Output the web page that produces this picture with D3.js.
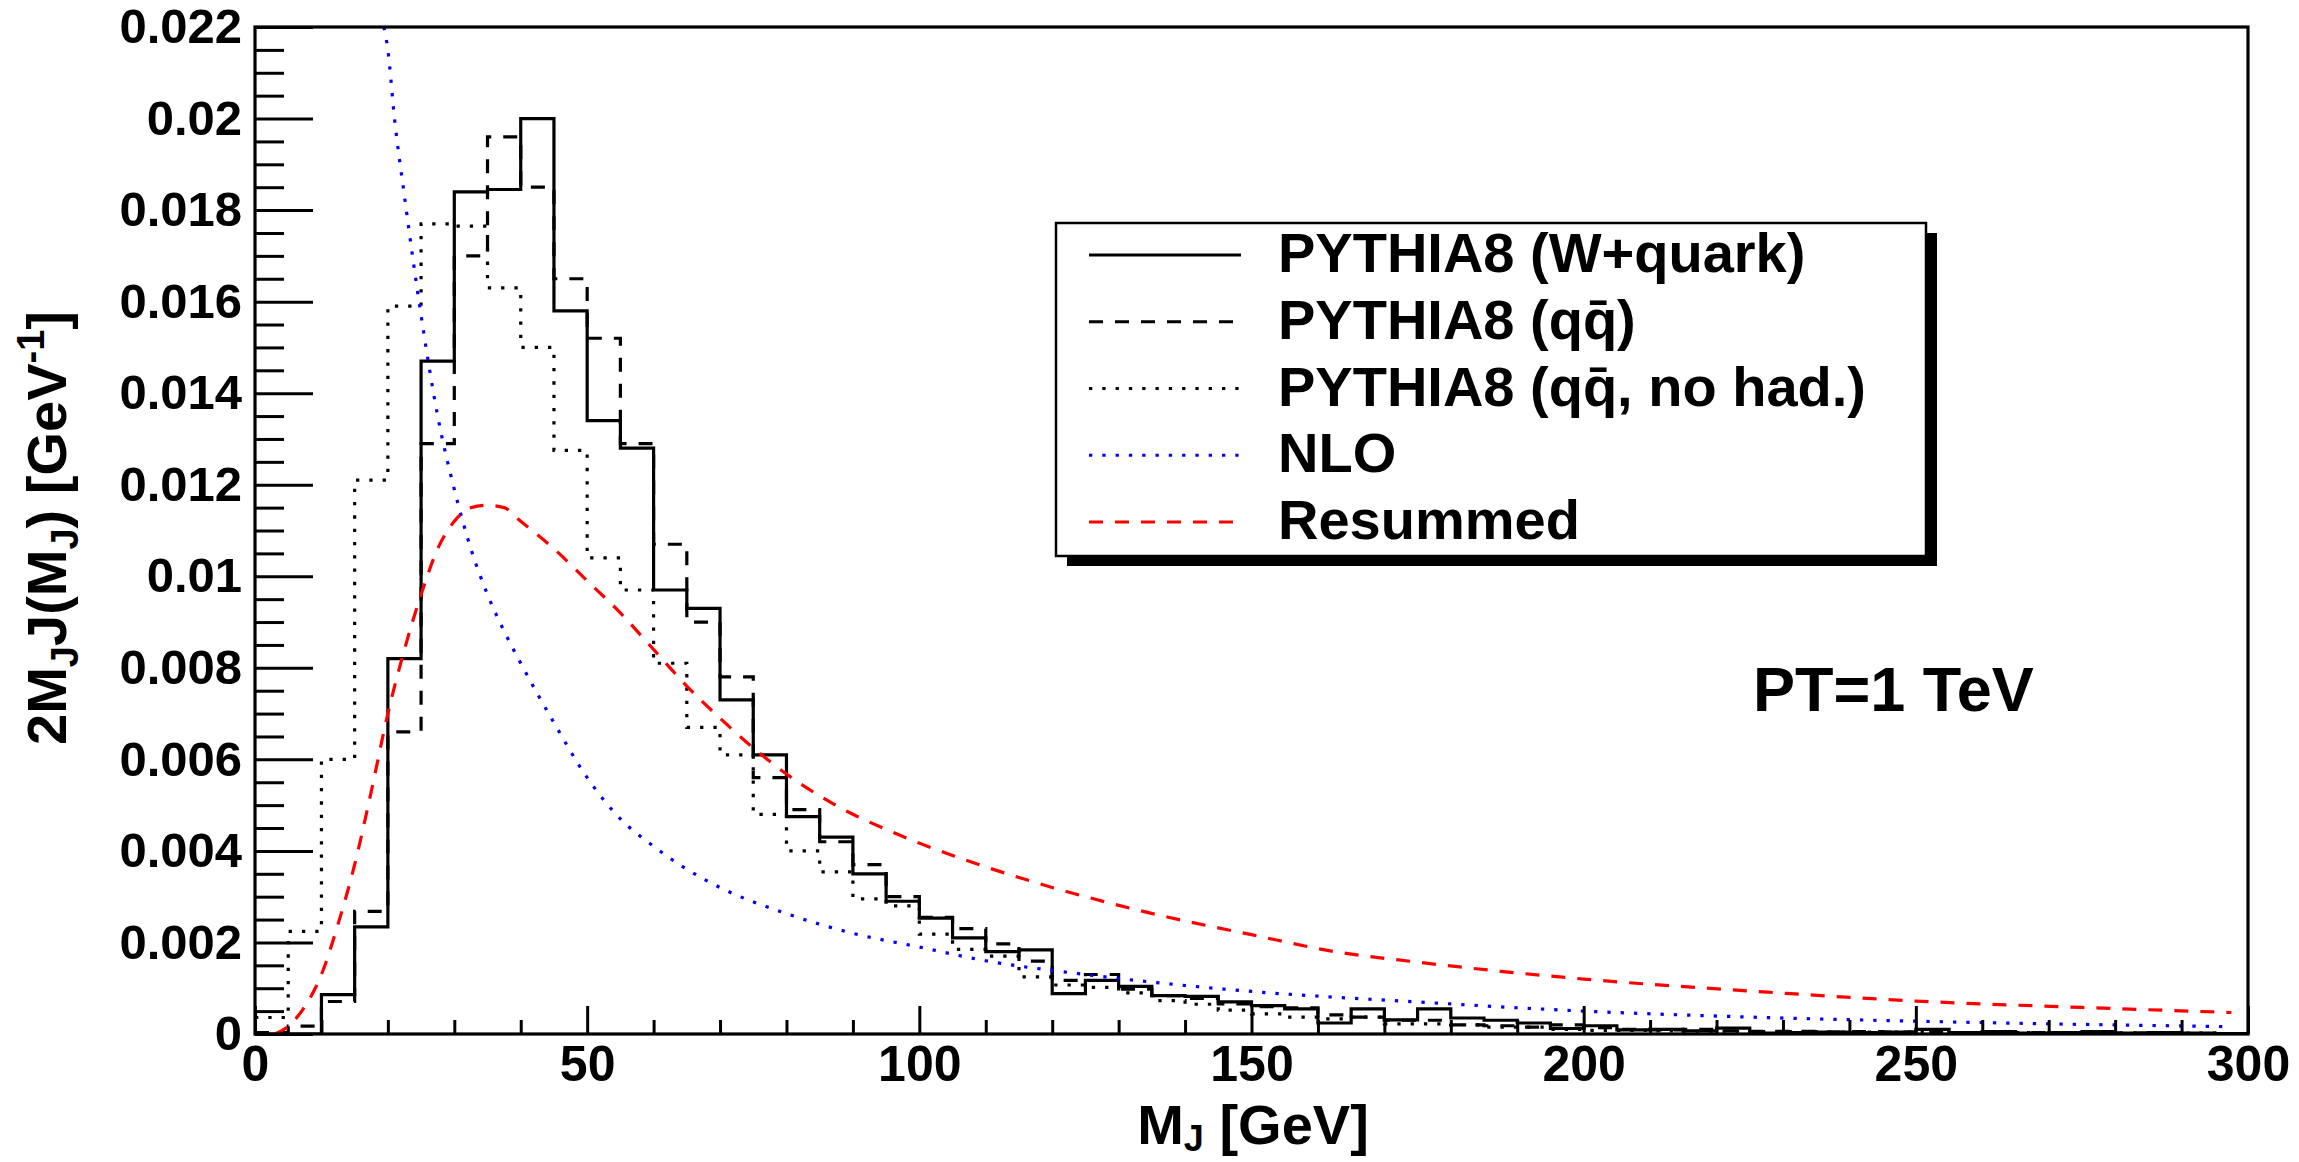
<!DOCTYPE html>
<html>
<head>
<meta charset="utf-8">
<script src="https://cdn.jsdelivr.net/npm/d3@7"></script>
<style>
  body { margin: 0; background: #fff; }
  svg { display: block; font-family: 'Liberation Sans', Arial, Helvetica, sans-serif; font-weight: bold; }
</style>
</head>
<body>
<svg id="chart" width="2299" height="1162"></svg>
<script>
// histogram bins are 5 GeV wide, from 0 to 300 GeV
const binWidth = 5;

// PYTHIA8 (W+quark), solid
const pythiaWquark = [
  0, 0, 0.00086, 0.00234, 0.0082, 0.0147, 0.0184, 0.01845, 0.0200, 0.0158,
  0.0134, 0.0128, 0.0097, 0.0093, 0.0073, 0.0061, 0.00475, 0.0043, 0.0035, 0.0029,
  0.00253, 0.0021, 0.0018, 0.00184, 0.00088, 0.00117, 0.00104, 0.00084, 0.00082, 0.0007,
  0.00062, 0.00055, 0.00024, 0.00055, 0.00031, 0.00055, 0.00035, 0.0003, 0.00024, 0.00012,
  0.00018, 0.00009, 0.0001, 0.00007, 0.00013, 0.00002, 0.00003, 0.00004, 0.00003, 0.00004,
  0.0001, 0.00003, 0.00005, 0.00002, 0.00003, 0.00005, 0.00002, 0.00003, 0.00002, 0.00001
];

// PYTHIA8 (q qbar), dashed
const pythiaQQ = [
  0.00003, 0.00017, 0.00071, 0.00268, 0.0066, 0.0129, 0.0170, 0.0196, 0.0185, 0.0165,
  0.0152, 0.0129, 0.0107, 0.0090, 0.0078, 0.0056, 0.0049, 0.0042, 0.0037, 0.0030,
  0.00255, 0.0023, 0.00197, 0.00159, 0.00117, 0.0013, 0.00098, 0.00084, 0.00078, 0.00066,
  0.0006, 0.00057, 0.00042, 0.00037, 0.0003, 0.0003, 0.0002, 0.00018, 0.00015, 0.0002,
  0.00014, 0.0001, 0.00009, 0.0001, 0.00007, 0.00006, 0.00006, 0.00004, 0.00005, 0.00004,
  0.00005, 0.00003, 0.00004, 0.00003, 0.00002, 0.00003, 0.00002, 0.00002, 0.00001, 0.00001
];

// PYTHIA8 (q qbar, no had.), dotted
const pythiaQQNoHad = [
  0.00036, 0.00224, 0.0060, 0.0121, 0.0159, 0.0177, 0.01765, 0.0163, 0.0150, 0.01275,
  0.0104, 0.0097, 0.0081, 0.0067, 0.0061, 0.0048, 0.0040, 0.00354, 0.00295, 0.0028,
  0.00218, 0.00185, 0.0017, 0.00125, 0.00107, 0.00102, 0.0009, 0.00073, 0.00065, 0.00052,
  0.00044, 0.00037, 0.00033, 0.00037, 0.00022, 0.00022, 0.0002, 0.00015, 0.00015, 0.0001,
  0.00008, 0.00008, 0.00007, 0.00006, 0.00006, 0.00005, 0.00005, 0.00004, 0.00004, 0.00004,
  0.00003, 0.00003, 0.00003, 0.00003, 0.00002, 0.00002, 0.00002, 0.00002, 0.00002, 0.00001
];

// NLO curve, [M_J, value]
const nloCurve = [
  [19.4, 0.0220], [20, 0.0215], [21, 0.0200], [22.5, 0.0183], [25, 0.0157],
  [27.5, 0.0135], [30, 0.0119], [32.5, 0.0106], [35, 0.0096], [37.5, 0.0088],
  [40, 0.0081], [45, 0.0068], [50, 0.0056], [55, 0.0047], [60, 0.0041],
  [65, 0.0036], [70, 0.0032], [80, 0.00263], [90, 0.0022], [100, 0.0019],
  [110, 0.0016], [125, 0.0013], [150, 0.00093], [175, 0.0007], [200, 0.0005],
  [225, 0.00037], [250, 0.00028], [275, 0.00021], [297.5, 0.00016]
];

// Resummed curve, [M_J, value]
const resummedCurve = [
  [3, 0], [5, 0.00017], [7.5, 0.0006], [10, 0.0013], [12.5, 0.0024],
  [15, 0.0037], [17.5, 0.0053], [20, 0.0070], [22.5, 0.0084], [25, 0.0096],
  [27.5, 0.0106], [30, 0.0112], [32.5, 0.0115], [35, 0.01155], [37.5, 0.0115],
  [40, 0.0112], [45, 0.0106], [50, 0.0099], [55, 0.0092], [60, 0.0084],
  [65, 0.0076], [70, 0.0069], [75, 0.00625], [80, 0.00568], [85, 0.0052],
  [90, 0.0048], [95, 0.00447], [100, 0.00417], [105, 0.0039], [110, 0.00365],
  [115, 0.00342], [120, 0.0032], [125, 0.0030], [137.5, 0.00255], [150, 0.00217],
  [162.5, 0.0018], [175, 0.00157], [187.5, 0.00137], [200, 0.0012], [225, 0.00094],
  [250, 0.00072], [275, 0.00058], [297.5, 0.00047]
];

// axis ticks
const yMajorTicks = [0, 0.002, 0.004, 0.006, 0.008, 0.01, 0.012, 0.014, 0.016, 0.018, 0.02, 0.022];
const yTickLabels = ['0', '0.002', '0.004', '0.006', '0.008', '0.01', '0.012', '0.014', '0.016', '0.018', '0.02', '0.022'];
const xMajorTicks = [0, 50, 100, 150, 200, 250, 300];
const xTickLabels = ['0', '50', '100', '150', '200', '250', '300'];

const legendLabels = ['PYTHIA8 (W+quark)', 'PYTHIA8 (qq\u0304)', 'PYTHIA8 (qq\u0304, no had.)', 'NLO', 'Resummed'];

// ---------------------------------------------------------------

const svg = d3.select('#chart');
svg.append('rect').attr('width', 2299).attr('height', 1162).attr('fill', '#fff');

const frame = { left: 255, right: 2248, top: 27, bottom: 1034 };

const xScale = d3.scaleLinear().domain([0, 300]).range([frame.left, frame.right]);
const yScale = d3.scaleLinear().domain([0, 0.022]).range([frame.bottom, frame.top]);

svg.append('clipPath').attr('id', 'plotClip')
  .append('rect')
  .attr('x', frame.left).attr('y', frame.top)
  .attr('width', frame.right - frame.left).attr('height', frame.bottom - frame.top);

const plot = svg.append('g').attr('clip-path', 'url(#plotClip)');

// turn bin contents into step points
function stepPoints(values) {
  const pts = [];
  values.forEach((v, i) => {
    pts.push([i * binWidth, v]);
    pts.push([(i + 1) * binWidth, v]);
  });
  return pts;
}

const stepLine = d3.line()
  .x(d => xScale(d[0]))
  .y(d => yScale(d[1]));

const smoothLine = d3.line()
  .x(d => xScale(d[0]))
  .y(d => yScale(d[1]))
  .curve(d3.curveMonotoneX);

const series = [
  { name: legendLabels[0], kind: 'hist', data: pythiaWquark, color: '#000', dash: null },
  { name: legendLabels[1], kind: 'hist', data: pythiaQQ, color: '#000', dash: '14,12' },
  { name: legendLabels[2], kind: 'hist', data: pythiaQQNoHad, color: '#000', dash: '3.3,10' },
  { name: legendLabels[3], kind: 'curve', data: nloCurve, color: '#0000ff', dash: '3.3,10' },
  { name: legendLabels[4], kind: 'curve', data: resummedCurve, color: '#ff0000', dash: '14,12' }
];

series.forEach(s => {
  plot.append('path')
    .attr('d', s.kind === 'hist' ? stepLine(stepPoints(s.data)) : smoothLine(s.data))
    .attr('fill', 'none')
    .attr('stroke', s.color)
    .attr('stroke-width', 3.2)
    .attr('stroke-dasharray', s.dash)
    .attr('stroke-linejoin', 'miter');
});

// frame
svg.append('rect')
  .attr('x', frame.left).attr('y', frame.top)
  .attr('width', frame.right - frame.left).attr('height', frame.bottom - frame.top)
  .attr('fill', 'none').attr('stroke', '#000').attr('stroke-width', 3.2);

// y ticks (inside) and labels
const yMinor = d3.range(0, 0.02201, 0.0005).filter(v => !yMajorTicks.some(m => Math.abs(m - v) < 1e-9));
const yMajorAxis = d3.axisRight(yScale).tickValues(yMajorTicks).tickSize(58).tickFormat('');
const yMinorAxis = d3.axisRight(yScale).tickValues(yMinor).tickSize(29).tickFormat('');
const yLabelAxis = d3.axisLeft(yScale).tickValues(yMajorTicks).tickSize(0).tickPadding(13)
  .tickFormat((d, i) => yTickLabels[i]);

[yMajorAxis, yMinorAxis, yLabelAxis].forEach(ax => {
  const g = svg.append('g').attr('transform', `translate(${frame.left},0)`).call(ax);
  g.select('.domain').remove();
  g.selectAll('line').attr('stroke', '#000').attr('stroke-width', 3);
  g.selectAll('text').attr('font-size', 49).attr('font-family', null).attr('fill', '#000');
});

// x ticks (inside) and labels
const xMinor = d3.range(0, 301, 10).filter(v => v % 50 !== 0);
const xMajorAxis = d3.axisTop(xScale).tickValues(xMajorTicks).tickSize(28).tickFormat('');
const xMinorAxis = d3.axisTop(xScale).tickValues(xMinor).tickSize(14).tickFormat('');
const xLabelAxis = d3.axisBottom(xScale).tickValues(xMajorTicks).tickSize(0).tickPadding(11)
  .tickFormat((d, i) => xTickLabels[i]);

[xMajorAxis, xMinorAxis, xLabelAxis].forEach(ax => {
  const g = svg.append('g').attr('transform', `translate(0,${frame.bottom})`).call(ax);
  g.select('.domain').remove();
  g.selectAll('line').attr('stroke', '#000').attr('stroke-width', 3);
  g.selectAll('text').attr('font-size', 50).attr('font-family', null).attr('fill', '#000');
});

// axis titles
const xTitle = svg.append('text')
  .attr('x', 1253).attr('y', 1144)
  .attr('text-anchor', 'middle')
  .attr('font-size', 56);
xTitle.append('tspan').text('M');
xTitle.append('tspan').attr('font-size', 36).attr('dy', 7).text('J');
xTitle.append('tspan').attr('dy', -7).text(' [GeV]');

const yTitle = svg.append('text')
  .attr('transform', 'translate(66,528) rotate(-90)')
  .attr('text-anchor', 'middle')
  .attr('font-size', 56);
yTitle.append('tspan').text('2M');
yTitle.append('tspan').attr('font-size', 38).attr('dy', 12).text('J');
yTitle.append('tspan').attr('dy', -12).text('J(M');
yTitle.append('tspan').attr('font-size', 38).attr('dy', 12).text('J');
yTitle.append('tspan').attr('dy', -12).text(') [GeV');
yTitle.append('tspan').attr('font-size', 38).attr('dy', -22).text('-1');
yTitle.append('tspan').attr('dy', 22).text(']');

// legend with shadow
const legend = { x: 1056, y: 223, w: 870, h: 333 };
svg.append('rect')
  .attr('x', legend.x + 11).attr('y', legend.y + 10)
  .attr('width', legend.w).attr('height', legend.h)
  .attr('fill', '#000');
svg.append('rect')
  .attr('x', legend.x).attr('y', legend.y)
  .attr('width', legend.w).attr('height', legend.h)
  .attr('fill', '#fff').attr('stroke', '#000').attr('stroke-width', 2.5);

const rowY = d3.scalePoint().domain(d3.range(series.length)).range([255, 522]);

series.forEach((s, i) => {
  svg.append('line')
    .attr('x1', 1089).attr('x2', 1241)
    .attr('y1', rowY(i)).attr('y2', rowY(i))
    .attr('stroke', s.color).attr('stroke-width', 3.2)
    .attr('stroke-dasharray', s.dash);
  svg.append('text')
    .attr('x', 1278).attr('y', rowY(i) + 17)
    .attr('font-size', 56)
    .text(s.name);
});

// annotation
svg.append('text')
  .attr('x', 1753).attr('y', 711)
  .attr('font-size', 63)
  .text('PT=1 TeV');
</script>
</body>
</html>
